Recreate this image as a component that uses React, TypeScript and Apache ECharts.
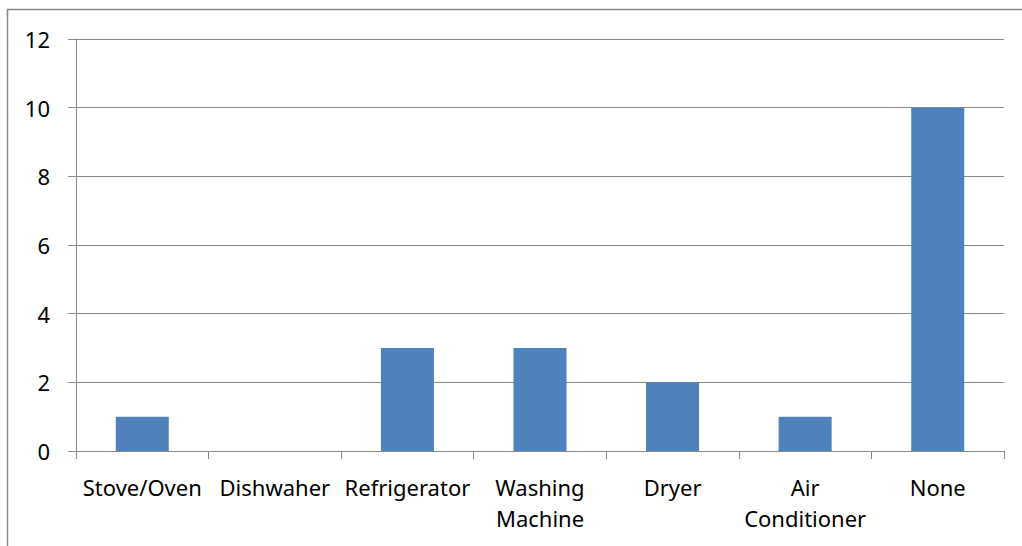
import React, { useEffect, useRef } from "react";
import * as echarts from "echarts";

const categories = ["Stove/Oven", "Dishwaher", "Refrigerator", "Washing\nMachine", "Dryer", "Air\nConditioner", "None"];
const values = [1, 0, 3, 3, 2, 1, 10];

export default function App() {
  const ref = useRef<HTMLDivElement>(null);
  useEffect(() => {
    document.body.style.margin = "0";
    const chart = echarts.init(ref.current!, null, { renderer: "svg" });
    const font = "'Noto Sans', sans-serif";
    chart.setOption({
      animation: false,
      backgroundColor: "#ffffff",
      graphic: [
        {
          type: "rect",
          shape: { x: 7.5, y: 9.5, width: 1030, height: 560 },
          style: { fill: "none", stroke: "#868686", lineWidth: 1.5 },
          silent: true,
        },
      ],
      grid: { left: 76, right: 18, top: 39, bottom: 95 },
      xAxis: {
        type: "category",
        data: categories,
        axisLine: { lineStyle: { color: "#898989", width: 1 } },
        axisTick: { show: true, interval: 0, length: 8, lineStyle: { color: "#898989" } },
        axisLabel: {
          interval: 0,
          color: "#000",
          fontFamily: font,
          fontSize: 22,
          lineHeight: 31,
          margin: 20,
        },
      },
      yAxis: {
        type: "value",
        min: 0,
        max: 12,
        interval: 2,
        axisLine: { show: true, lineStyle: { color: "#898989", width: 1 } },
        axisTick: { show: true, length: 8, lineStyle: { color: "#898989" } },
        splitLine: { show: true, lineStyle: { color: "#898989", width: 1 } },
        axisLabel: { color: "#000", fontFamily: font, fontSize: 22, margin: 26 },
      },
      series: [
        {
          type: "bar",
          data: values,
          barWidth: "40%",
          itemStyle: { color: "#4F81BD" },
        },
      ],
    });
    return () => chart.dispose();
  }, []);
  return <div ref={ref} style={{ position: "fixed", left: 0, top: 0, width: 1022, height: 546 }} />;
}
